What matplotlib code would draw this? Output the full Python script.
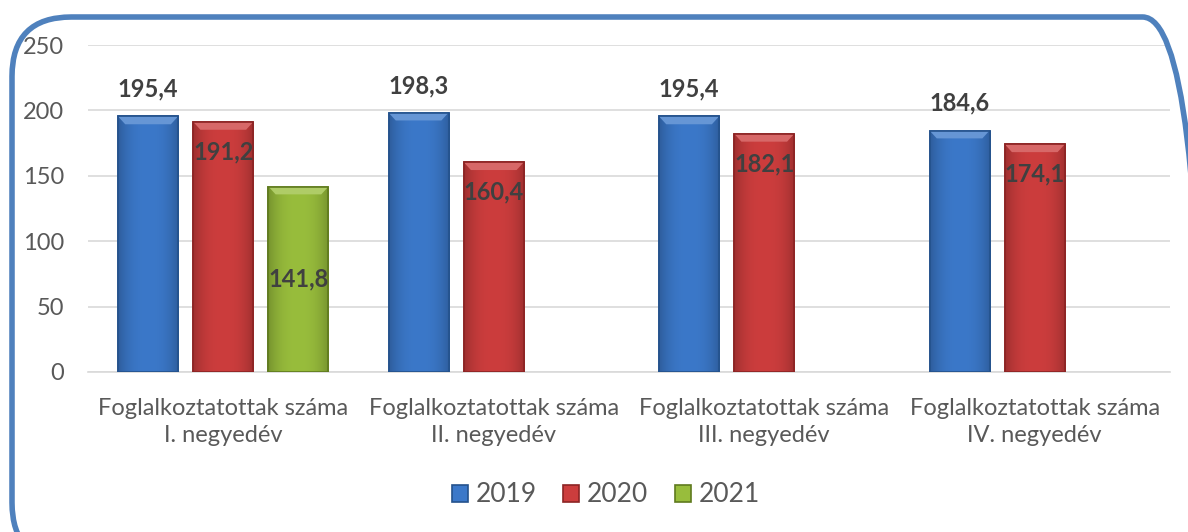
import matplotlib
matplotlib.use("Agg")
import matplotlib.pyplot as plt
from matplotlib.patches import FancyBboxPatch, Polygon
from matplotlib.colors import to_rgb
import numpy as np

plt.rcParams['font.family'] = ['Lato', 'DejaVu Sans']

categories = ["Foglalkoztatottak száma\nI. negyedév",
              "Foglalkoztatottak száma\nII. negyedév",
              "Foglalkoztatottak száma\nIII. negyedév",
              "Foglalkoztatottak száma\nIV. negyedév"]
years = ["2019", "2020", "2021"]
v2019 = [195.4, 198.3, 195.4, 184.6]
v2020 = [191.2, 160.4, 182.1, 174.1]
v2021 = [141.8, None, None, None]

colors = ['#3B78C9', '#CC3D3D', '#98BD3C']
edges = ['#24528C', '#8C2424', '#5F7A1E']
label_pos = ['above', 'inside', 'center']

fig = plt.figure(figsize=(11.88, 5.32), dpi=100)
ax = fig.add_axes([88 / 1188, 1 - 372 / 532, (1170 - 88) / 1188, (372 - 45) / 532])


def shade(bar, color):
    # soft horizontal gradient + light bevel on top, clipped to the bar
    c = np.array(to_rgb(color))
    t = np.linspace(-1, 1, 64)
    f = 1.0 - 0.22 * np.abs(t) ** 2.5
    img = np.clip(c[None, :] * f[:, None], 0, 1)[None, :, :]
    x0, y0, w, h = bar.get_x(), bar.get_y(), bar.get_width(), bar.get_height()
    im = ax.imshow(img, extent=[x0, x0 + w, y0, y0 + h], aspect='auto', zorder=3,
                   interpolation='bicubic')
    im.set_clip_path(bar)
    bev = 6.0
    light = np.clip(c + (1 - c) * 0.22, 0, 1)
    ax.add_patch(Polygon([[x0, y0 + h], [x0 + w, y0 + h], [x0 + w * 0.88, y0 + h - bev],
                          [x0 + w * 0.12, y0 + h - bev]], closed=True, facecolor=light,
                         edgecolor='none', zorder=3.5))


x = np.arange(len(categories))
width = 0.222
step = 0.278
txt = '#595959'
for i, (vals, name) in enumerate(zip([v2019, v2020, v2021], years)):
    xs = [xi + (i - 1) * step for xi, v in zip(x, vals) if v is not None]
    vs = [v for v in vals if v is not None]
    bars = ax.bar(xs, vs, width, color=colors[i], edgecolor=edges[i], linewidth=1.2,
                  label=name, zorder=3)
    for b, v in zip(bars, vs):
        shade(b, colors[i])
        ax.bar(b.get_x() + b.get_width() / 2, v, width, facecolor='none',
               edgecolor=edges[i], linewidth=1.2, zorder=3.6)
        s = f"{v:.1f}".replace('.', ',')
        cx = b.get_x() + b.get_width() / 2
        if label_pos[i] == 'above':
            ax.text(cx, v + 12, s, ha='center', va='bottom', fontsize=17,
                    fontweight='bold', color='#404040', zorder=4)
        elif label_pos[i] == 'inside':
            ax.text(cx, v - 14, s, ha='center', va='top', fontsize=17,
                    fontweight='bold', color='#404040', zorder=4)
        else:
            ax.text(cx, v / 2, s, ha='center', va='center', fontsize=17,
                    fontweight='bold', color='#404040', zorder=4)

ax.set_xlim(-0.5, 3.5)
ax.set_ylim(0, 250)
ax.set_yticks([0, 50, 100, 150, 200, 250])
ax.set_xticks(x)
ax.set_xticklabels(categories, fontsize=17, color=txt, linespacing=1.35)
ax.tick_params(axis='y', labelsize=17, labelcolor=txt, length=0, pad=17)
ax.tick_params(axis='x', length=0, pad=19)
ax.yaxis.grid(True, color='#D9D9D9', linewidth=1.2, zorder=0)
ax.set_axisbelow(True)
for sp in ['top', 'right', 'left']:
    ax.spines[sp].set_visible(False)
ax.spines['bottom'].set_color('#D9D9D9')
ax.spines['bottom'].set_linewidth(1.2)

leg = fig.legend(loc='center', bbox_to_anchor=(0.51, 1 - 495 / 532), ncol=3, frameon=False,
                 fontsize=19, handlelength=0.6, handleheight=0.6, handletextpad=0.3,
                 columnspacing=1.0)
for t in leg.get_texts():
    t.set_color(txt)

top = 1 - 17 / 532
bottom = -30 / 532
border = FancyBboxPatch((12 / 1188, bottom), 1190 / 1188, top - bottom,
                        boxstyle="round,pad=0,rounding_size=0.05", transform=fig.transFigure,
                        facecolor='none', edgecolor='#4F81BD', linewidth=4, clip_on=False,
                        mutation_aspect=1188 / 532)
fig.patches.append(border)

fig.savefig("out.png", dpi=100)
